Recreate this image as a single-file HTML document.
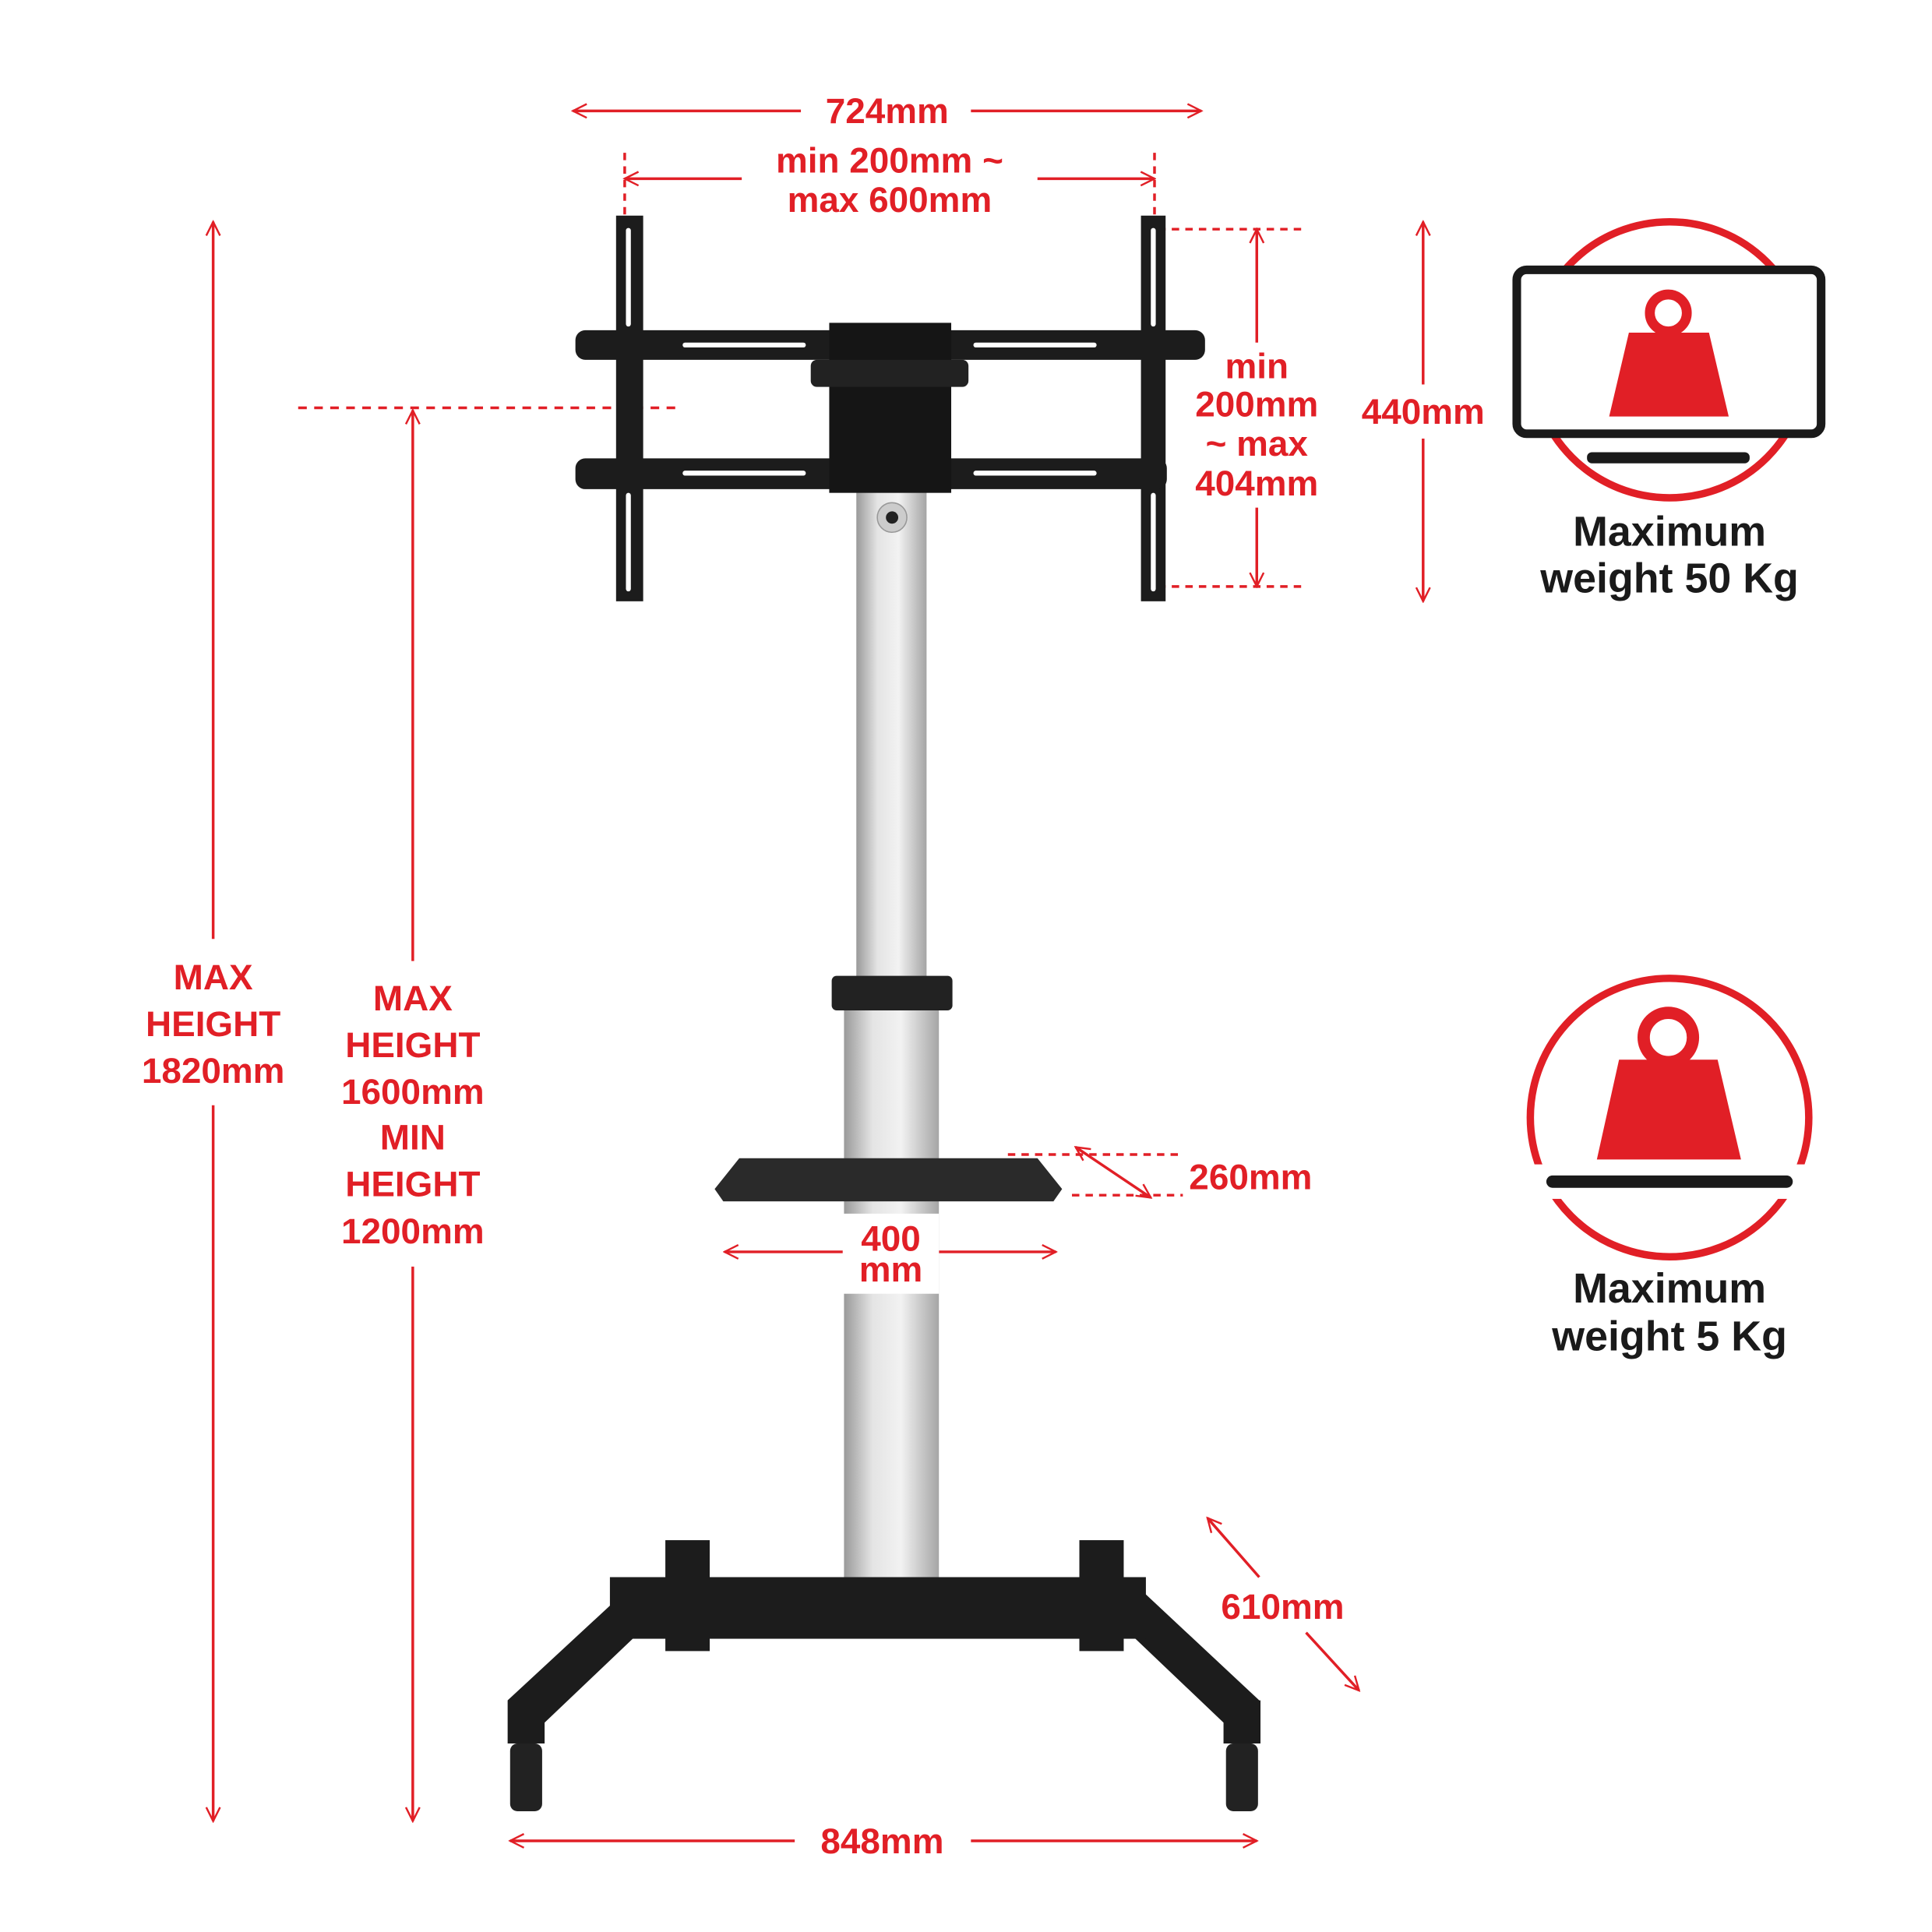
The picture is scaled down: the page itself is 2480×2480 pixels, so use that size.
<!DOCTYPE html>
<html><head><meta charset="utf-8"><style>
html,body{margin:0;padding:0;background:#fff}
svg{display:block}
text{font-family:"Liberation Sans",sans-serif;font-weight:bold}
.r{fill:#e11f26;font-size:29px}
.k{fill:#1a1a1a;font-size:34px;font-family:"Liberation Sans Narrow","Liberation Sans",sans-serif}
</style></head><body>
<svg width="2480" height="2480" viewBox="0 0 1568 1568" xmlns="http://www.w3.org/2000/svg">
<defs>
<linearGradient id="si" x1="0" x2="1">
<stop offset="0" stop-color="#9a9a9a"/><stop offset="0.3" stop-color="#e4e4e4"/><stop offset="0.6" stop-color="#f2f2f2"/><stop offset="1" stop-color="#a5a5a5"/>
</linearGradient>
<marker id="a" viewBox="0 0 20 20" refX="18" refY="10" markerWidth="14" markerHeight="14" orient="auto-start-reverse" markerUnits="userSpaceOnUse">
<path d="M2 2 L18 10 L2 18" fill="none" stroke="#e11f26" stroke-width="2.2"/>
</marker>
</defs>
<g stroke="#e11f26" stroke-width="2.2" fill="none">
<line x1="465" y1="90" x2="650" y2="90" marker-start="url(#a)"/>
<line x1="788" y1="90" x2="975" y2="90" marker-end="url(#a)"/>
<line x1="507" y1="145" x2="602" y2="145" marker-start="url(#a)"/>
<line x1="842" y1="145" x2="937" y2="145" marker-end="url(#a)"/>
<line x1="507" y1="124" x2="507" y2="182" stroke-dasharray="6 5"/>
<line x1="937" y1="124" x2="937" y2="182" stroke-dasharray="6 5"/>
<line x1="173" y1="180" x2="173" y2="762" marker-start="url(#a)"/>
<line x1="173" y1="897" x2="173" y2="1478" marker-end="url(#a)"/>
<line x1="335" y1="333" x2="335" y2="780" marker-start="url(#a)"/>
<line x1="335" y1="1028" x2="335" y2="1478" marker-end="url(#a)"/>
<line x1="242" y1="331" x2="550" y2="331" stroke-dasharray="7 6"/>
<line x1="1155" y1="180" x2="1155" y2="312" marker-start="url(#a)"/>
<line x1="1155" y1="356" x2="1155" y2="488" marker-end="url(#a)"/>
<line x1="1020" y1="186" x2="1020" y2="278" marker-start="url(#a)"/>
<line x1="1020" y1="412" x2="1020" y2="476" marker-end="url(#a)"/>
<line x1="940" y1="186" x2="1058" y2="186" stroke-dasharray="6 5"/>
<line x1="940" y1="476" x2="1058" y2="476" stroke-dasharray="6 5"/>
<line x1="818" y1="937" x2="960" y2="937" stroke-dasharray="6 5"/>
<line x1="870" y1="970" x2="960" y2="970" stroke-dasharray="6 5"/>
<line x1="873" y1="931" x2="934" y2="972" marker-start="url(#a)" marker-end="url(#a)"/>
<line x1="588" y1="1016" x2="684" y2="1016" marker-start="url(#a)"/>
<line x1="762" y1="1016" x2="857" y2="1016" marker-end="url(#a)"/>
<line x1="980" y1="1232" x2="1022" y2="1280" marker-start="url(#a)"/>
<line x1="1060" y1="1325" x2="1103" y2="1372" marker-end="url(#a)"/>
<line x1="414" y1="1494" x2="645" y2="1494" marker-start="url(#a)"/>
<line x1="788" y1="1494" x2="1020" y2="1494" marker-end="url(#a)"/>
</g>

<rect x="695" y="398" width="57" height="397" fill="url(#si)"/>
<rect x="685" y="820" width="77" height="475" fill="url(#si)"/>
<rect x="675" y="792" width="98" height="28" fill="#222" rx="4"/>
<circle cx="724" cy="420" r="12" fill="#ccc" stroke="#999"/><circle cx="724" cy="420" r="5" fill="#222"/>
<rect x="500" y="175" width="22" height="313" fill="#1c1c1c"/>
<rect x="926" y="175" width="20" height="313" fill="#1c1c1c"/>
<rect x="467" y="268" width="511" height="24" fill="#1c1c1c" rx="8"/>
<rect x="467" y="372" width="480" height="25" fill="#1c1c1c" rx="8"/>
<g fill="#fff">
<rect x="554" y="278" width="100" height="4" rx="2"/><rect x="790" y="278" width="100" height="4" rx="2"/>
<rect x="554" y="382" width="100" height="4" rx="2"/><rect x="790" y="382" width="100" height="4" rx="2"/>
<rect x="508" y="185" width="4" height="80" rx="2"/><rect x="934" y="185" width="4" height="80" rx="2"/>
<rect x="508" y="400" width="4" height="80" rx="2"/><rect x="934" y="400" width="4" height="80" rx="2"/>
</g>
<rect x="673" y="262" width="99" height="138" fill="#151515"/>
<rect x="658" y="292" width="128" height="22" fill="#222" rx="5"/>
<path d="M580 965 L600 940 L842 940 L862 965 L855 975 L587 975 Z" fill="#2a2a2a"/>
<rect x="684" y="985" width="78" height="65" fill="#fff"/>
<path d="M412 1380 L520 1280 L545 1300 L440 1400 Z" fill="#1c1c1c"/>
<path d="M1022 1380 L915 1280 L890 1300 L995 1400 Z" fill="#1c1c1c"/>
<rect x="412" y="1380" width="30" height="35" fill="#1c1c1c"/>
<rect x="993" y="1380" width="30" height="35" fill="#1c1c1c"/>
<rect x="495" y="1280" width="435" height="50" fill="#1c1c1c"/>
<rect x="540" y="1250" width="36" height="90" fill="#1c1c1c"/>
<rect x="876" y="1250" width="36" height="90" fill="#1c1c1c"/>
<rect x="414" y="1415" width="26" height="55" fill="#222" rx="6"/>
<rect x="995" y="1415" width="26" height="55" fill="#222" rx="6"/>

<circle cx="1355" cy="292" r="112" fill="none" stroke="#e11f26" stroke-width="6"/>
<rect x="1231" y="219" width="247" height="133" fill="#fff" stroke="#1a1a1a" stroke-width="7" rx="8"/>
<rect x="1288" y="367" width="132" height="9" fill="#1a1a1a" rx="4"/>
<circle cx="1354" cy="254" r="15" fill="none" stroke="#e11f26" stroke-width="8"/>
<path d="M1322 270 L1387 270 L1403 338 L1306 338 Z" fill="#e11f26"/>
<circle cx="1355" cy="907" r="113" fill="none" stroke="#e11f26" stroke-width="6"/>
<rect x="1230" y="945" width="250" height="28" fill="#fff"/>
<rect x="1255" y="954" width="200" height="10" fill="#1a1a1a" rx="5"/>
<circle cx="1354" cy="842" r="20" fill="none" stroke="#e11f26" stroke-width="10"/>
<path d="M1314 860 L1394 860 L1413 941 L1296 941 Z" fill="#e11f26"/>

<g class="r" text-anchor="middle">
<text x="720" y="100">724mm</text>
<text x="722" y="140">min 200mm ~</text>
<text x="722" y="172">max 600mm</text>
<text x="173" y="803">MAX</text><text x="173" y="841">HEIGHT</text><text x="173" y="879">1820mm</text>
<text x="335" y="820">MAX</text><text x="335" y="858">HEIGHT</text><text x="335" y="896">1600mm</text>
<text x="335" y="933">MIN</text><text x="335" y="971">HEIGHT</text><text x="335" y="1009">1200mm</text>
<text x="1155" y="344">440mm</text>
<text x="1020" y="307">min</text><text x="1020" y="338">200mm</text><text x="1020" y="370">~ max</text><text x="1020" y="402">404mm</text>
<text x="1015" y="965">260mm</text>
<text x="723" y="1015">400</text><text x="723" y="1040">mm</text>
<text x="1041" y="1314">610mm</text>
<text x="716" y="1504">848mm</text>
</g>
<g class="k" text-anchor="middle">
<text x="1355" y="443">Maximum</text><text x="1355" y="481">weight 50 Kg</text>
<text x="1355" y="1057">Maximum</text><text x="1355" y="1096">weight 5 Kg</text>
</g>
</svg>
</body></html>
